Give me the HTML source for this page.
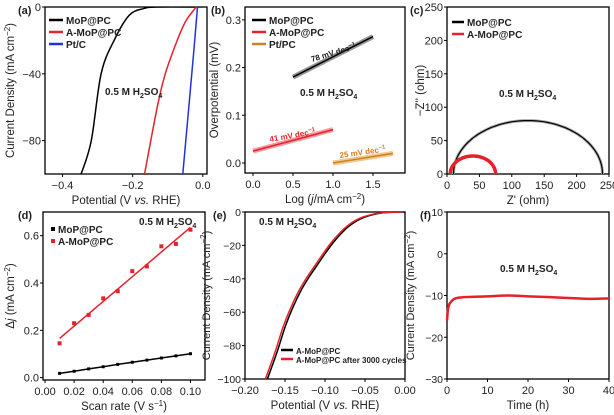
<!DOCTYPE html>
<html><head><meta charset="utf-8"><style>
body{margin:0;background:#fff}
svg{display:block;font-family:"Liberation Sans",sans-serif}
text{fill:#222}
</style></head><body>
<svg id="fig" width="614" height="415" viewBox="0 0 614 415"></svg>
<script>
// ---- Data (a)
const aPot=[-0.35,-0.347,-0.318,-0.29,-0.253,-0.21,-0.17,-0.13,0];
const aMoP=[-100,-100,-80,-40,-20,-5,-1,0,0];
const aAPot=[-0.166,-0.13,-0.107,-0.073,-0.05,-0.03,-0.017,0];
const aAMoP=[-100,-60,-40,-20,-9,-3,0,0];
const aPtPot=[-0.057,-0.04,-0.025,-0.015,0];
const aPt=[-100,-60,-25,0,0];
// ---- Data (b)
const bMoPx=[0.5,1.5],bMoPy=[0.18,0.265];
const bAx=[0,1],bAy=[0.025,0.07];
const bPtx=[1.0,1.75],bPty=[0.0,0.02];
// ---- Data (c)
const cMoP=[10,240,80];   // start, end, peak
const cA=[5,75,27];
// ---- Data (d)
const dScan=[0.01,0.02,0.03,0.04,0.05,0.06,0.07,0.08,0.09,0.10];
const dA=[0.145,0.23,0.265,0.335,0.365,0.45,0.47,0.555,0.565,0.625];
const dMoP=[0.018,0.027,0.037,0.046,0.056,0.065,0.074,0.083,0.092,0.101];
// ---- Data (e)
const ePot=[-0.172,-0.16,-0.15,-0.14,-0.13,-0.12,-0.11,-0.1,-0.09,-0.08,-0.07,-0.06,-0.05,-0.04,-0.03,-0.02,-0.01,0];
const eJ=[-100,-84,-69,-57,-47,-39,-32,-25,-18.5,-13,-8.5,-5.2,-3,-1.6,-0.7,-0.25,-0.05,0];
const eShift=0.0025;
// ---- Data (f)
const fT=[0,0.3,1,3,10,15,20,28,35,40];
const fJ=[-16,-13,-11.5,-10.5,-10.2,-10,-10.2,-10.5,-10.8,-10.7];

const svg=document.getElementById('fig');
const NS='http://www.w3.org/2000/svg';
function mk(tag,attrs,name,txt){const e=document.createElementNS(NS,tag);for(const k in attrs)e.setAttribute(k,attrs[k]);


if(txt!==undefined)e.innerHTML=txt;svg.appendChild(e);return e;}
function panel(p){
 const sx=v=>p.x0+(v-p.dx[0])/(p.dx[1]-p.dx[0])*(p.x1-p.x0);
 const sy=v=>p.y1-(v-p.dy[0])/(p.dy[1]-p.dy[0])*(p.y1-p.y0);
 const tf=p.tf||11;
 mk('rect',{x:p.x0,y:p.y0,width:p.x1-p.x0,height:p.y1-p.y0,fill:'none',stroke:'#000','stroke-width':1.3},p.id+'-frame');
 p.xt.forEach((v,i)=>{const x=sx(v);mk('line',{x1:x,x2:x,y1:p.y1,y2:p.y1+3,stroke:'#000'},p.id+'-x-tick');
  mk('text',{x:x,y:p.y1+15,'font-size':11,'text-anchor':'middle'},p.id+'-x-tick-label',p.xl[i]);});
 p.yt.forEach((v,i)=>{const y=sy(v);mk('line',{x1:p.x0-3,x2:p.x0,y1:y,y2:y,stroke:'#000'},p.id+'-y-tick');
  mk('text',{x:p.x0-4,y:y+4,'font-size':tf,'text-anchor':'end'},p.id+'-y-tick-label',p.yl[i]);});
 mk('text',{x:(p.x0+p.x1)/2,y:p.y1+30,'font-size':11.5,'text-anchor':'middle'},p.id+'-x-axis-title',p.xtitle);
 const yc=(p.y0+p.y1)/2;
 mk('text',{x:p.ytx,y:yc,'font-size':p.yf||11.5,'text-anchor':'middle',transform:`rotate(-90 ${p.ytx} ${yc})`},p.id+'-y-axis-title',p.ytitle);
 mk('text',{x:p.lx,y:p.y0+7,'font-size':11,'font-weight':'bold'},p.id+'-panel-label','('+p.id+')');
 return [sx,sy];
}
function path(sx,sy,xs,ys,st,name){let d='';xs.forEach((x,i)=>{d+=(i?'L':'M')+sx(x).toFixed(1)+' '+sy(ys[i]).toFixed(1);});
 return mk('path',Object.assign({d:d,fill:'none'},st),name);}
function smooth(sx,sy,xs,ys,st,name){
 const P=xs.map((x,i)=>[sx(x),sy(ys[i])]);let d='M'+P[0][0]+' '+P[0][1];
 for(let i=0;i<P.length-1;i++){const p0=P[Math.max(0,i-1)],p1=P[i],p2=P[i+1],p3=P[Math.min(P.length-1,i+2)];
  d+=`C${p1[0]+(p2[0]-p0[0])/6} ${p1[1]+(p2[1]-p0[1])/6} ${p2[0]-(p3[0]-p1[0])/6} ${p2[1]-(p3[1]-p1[1])/6} ${p2[0]} ${p2[1]}`;}
 return mk('path',Object.assign({d:d,fill:'none'},st),name);}
function clip(id,x0,y0,x1,y1){const c=document.createElementNS(NS,'clipPath');c.id=id;const r=document.createElementNS(NS,'rect');
 r.setAttribute('x',x0);r.setAttribute('y',y0);r.setAttribute('width',x1-x0);r.setAttribute('height',y1-y0);c.appendChild(r);svg.appendChild(c);}
function legend(x,y,col,label,name,bold=true,w=14,fs=10){mk('line',{x1:x,x2:x+w,y1:y,y2:y,stroke:col,'stroke-width':2.5},name+'-swatch');
 mk('text',{x:x+w+3,y:y+4,'font-size':fs,'font-weight':bold?'bold':'normal'},name,label);}
const H2SO4='0.5 M H<tspan font-size="7" dy="3">2</tspan><tspan dy="-3">SO</tspan><tspan font-size="7" dy="3">4</tspan>';
const CD='Current Density (mA cm<tspan font-size="8" dy="-4">−2</tspan><tspan dy="4">)</tspan>';

// (a)
let [sx,sy]=panel({id:'a',x0:45,x1:207,y0:7,y1:174,dx:[-0.45,0.012],dy:[-100,0],xt:[-0.4,-0.2,0],xl:['−0.4','−0.2','0.0'],
 yt:[0,-40,-80],yl:['0','−40','−80'],xtitle:'Potential (V <tspan font-style="italic">vs.</tspan> RHE)',ytitle:CD,ytx:14,lx:18});
clip('ca',45,7,207,174);
smooth(sx,sy,aPot,aMoP,{stroke:'#000','stroke-width':1.5,'clip-path':'url(#ca)'},'a-mop-pc-curve');
smooth(sx,sy,aAPot,aAMoP,{stroke:'#e8202a','stroke-width':1.5,'clip-path':'url(#ca)'},'a-a-mop-pc-curve');
path(sx,sy,aPtPot,aPt,{stroke:'#2233dd','stroke-width':1.5,'clip-path':'url(#ca)'},'a-pt-c-curve');
legend(49,20,'#000','MoP@PC','a-legend-mop');legend(49,32,'#e8202a','A-MoP@PC','a-legend-a-mop');legend(49,44,'#2233dd','Pt/C','a-legend-ptc');
mk('text',{x:105,y:95,'font-size':10,'font-weight':'bold'},'a-electrolyte-label',H2SO4);

// (b)
[sx,sy]=panel({id:'b',x0:245,x1:405,y0:7,y1:173,dx:[-0.1,1.9],dy:[-0.021,0.327],xt:[0,0.5,1,1.5],xl:['0.0','0.5','1.0','1.5'],
 yt:[0,0.1,0.2,0.3],yl:['0.0','0.1','0.2','0.3'],xtitle:'Log (<tspan font-style="italic">j</tspan>/mA cm<tspan font-size="8" dy="-4">−2</tspan><tspan dy="4">)</tspan>',ytitle:'Overpotential (mV)',ytx:218,lx:211});
path(sx,sy,bMoPx,bMoPy,{stroke:'#999','stroke-width':5},'b-mop-markers');
path(sx,sy,bMoPx,bMoPy,{stroke:'#000','stroke-width':1.5},'b-mop-fit');
path(sx,sy,bAx,bAy,{stroke:'#f3a0a5','stroke-width':5},'b-a-mop-markers');
path(sx,sy,bAx,bAy,{stroke:'#e8202a','stroke-width':1.5},'b-a-mop-fit');
path(sx,sy,bPtx,bPty,{stroke:'#f0c890','stroke-width':5},'b-pt-markers');
path(sx,sy,bPtx,bPty,{stroke:'#d08020','stroke-width':1.5},'b-pt-fit');
legend(252,20,'#000','MoP@PC','b-legend-mop');legend(252,32,'#e8202a','A-MoP@PC','b-legend-a-mop');legend(252,44,'#d08020','Pt/PC','b-legend-pt');
mk('text',{x:312,y:62,'font-size':8,'font-weight':'bold',transform:'rotate(-17 312 62)'},'b-slope-mop','78 mV dec<tspan font-size="6" dy="-3">−1</tspan>');
mk('text',{x:270,y:142,'font-size':8,'font-weight':'bold',transform:'rotate(-10 270 142)',style:'fill:#e8202a'},'b-slope-a-mop','41 mV dec<tspan font-size="6" dy="-3">−1</tspan>');
mk('text',{x:340,y:158,'font-size':8,'font-weight':'bold',transform:'rotate(-8 340 158)',style:'fill:#d08020'},'b-slope-pt','25 mV dec<tspan font-size="6" dy="-3">−1</tspan>');
mk('text',{x:300,y:96,'font-size':10,'font-weight':'bold'},'b-electrolyte-label',H2SO4);

// (c)
[sx,sy]=panel({id:'c',x0:447,x1:609,y0:7,y1:174,dx:[0,250],dy:[0,250],xt:[0,50,100,150,200,250],xl:['0','50','100','150','200','250'],
 yt:[0,50,100,150,200,250],yl:['0','50','100','150','200','250'],xtitle:"Z' (ohm)",ytitle:"−Z'' (ohm)",ytx:424,lx:410});
function arc(a,col,w,name){const cx=(a[0]+a[1])/2,r=(a[1]-a[0])/2;let d='';for(let i=0;i<=60;i++){const t=Math.PI*i/60;
 d+=(i?'L':'M')+sx(cx-r*Math.cos(t)).toFixed(1)+' '+sy(a[2]*Math.sin(t)).toFixed(1);}return mk('path',{d:d,fill:'none',stroke:col,'stroke-width':w},name);}
arc(cMoP,'#aaa',3,'c-mop-markers');arc(cMoP,'#000',1.2,'c-mop-fit');
arc(cA,'#e8202a',3.5,'c-a-mop-curve');
legend(452,22,'#000','MoP@PC','c-legend-mop',true,12);legend(452,34,'#e8202a','A-MoP@PC','c-legend-a-mop',true,12);
mk('text',{x:499,y:97,'font-size':10,'font-weight':'bold'},'c-electrolyte-label',H2SO4);

// (d)
[sx,sy]=panel({id:'d',x0:43,x1:205,y0:212,y1:380,dx:[-0.0014,0.110],dy:[-0.01,0.70],xt:[0,0.02,0.04,0.06,0.08,0.1],xl:['0.00','0.02','0.04','0.06','0.08','0.10'],
 yt:[0,0.2,0.4,0.6],yl:['0.0','0.2','0.4','0.6'],xtitle:'Scan rate (V s<tspan font-size="8" dy="-4">−1</tspan><tspan dy="4">)</tspan>',ytitle:'Δ<tspan font-style="italic">j</tspan> (mA cm<tspan font-size="8" dy="-4">−2</tspan><tspan dy="4">)</tspan>',ytx:14,lx:18});
(function(){const n=dScan.length;let mx=0,my=0;dScan.forEach((x,i)=>{mx+=x;my+=dA[i];});mx/=n;my/=n;let sxy=0,sxx=0;
 dScan.forEach((x,i)=>{sxy+=(x-mx)*(dA[i]-my);sxx+=(x-mx)*(x-mx);});const k=sxy/sxx,b=my-k*mx;
 path(sx,sy,[dScan[0],dScan[n-1]],[k*dScan[0]+b,k*dScan[n-1]+b],{stroke:'#e8202a','stroke-width':1.5},'d-a-mop-fit');})();
path(sx,sy,dScan,dMoP,{stroke:'#000','stroke-width':1.5},'d-mop-fit');
dScan.forEach((x,i)=>{mk('rect',{x:sx(x)-2,y:sy(dA[i])-2,width:4,height:4,fill:'#e8202a'},'d-a-mop-point');
 mk('rect',{x:sx(x)-1.5,y:sy(dMoP[i])-1.5,width:3,height:3,fill:'#000'},'d-mop-point');});
mk('rect',{x:51,y:227,width:4,height:4,fill:'#000'},'d-legend-mop-swatch');mk('text',{x:58,y:233,'font-size':10,'font-weight':'bold'},'d-legend-mop','MoP@PC');
mk('rect',{x:51,y:239,width:4,height:4,fill:'#e8202a'},'d-legend-a-mop-swatch');mk('text',{x:58,y:245,'font-size':10,'font-weight':'bold'},'d-legend-a-mop','A-MoP@PC');
mk('text',{x:139,y:225,'font-size':10,'font-weight':'bold'},'d-electrolyte-label',H2SO4);

// (e)
[sx,sy]=panel({id:'e',x0:245,x1:405,y0:212,y1:379,dx:[-0.2,0],dy:[-100,0],xt:[-0.2,-0.15,-0.1,-0.05,0],xl:['−0.20','−0.15','−0.10','−0.05','0.00'],
 yt:[0,-20,-40,-60,-80,-100],yl:['0','−20','−40','−60','−80','−100'],xtitle:'Potential (V <tspan font-style="italic">vs.</tspan> RHE)',ytitle:CD,ytx:210,lx:213,tf:10.5,yf:11});
clip('ce',245,212,405,379);
smooth(sx,sy,ePot,eJ,{stroke:'#000','stroke-width':1.5,'clip-path':'url(#ce)'},'e-a-mop-curve');
smooth(sx,sy,ePot.map(v=>v-eShift),eJ,{stroke:'#e8202a','stroke-width':1.5,'clip-path':'url(#ce)'},'e-after-cycles-curve');
legend(281,350,'#000','A-MoP@PC','e-legend-a-mop',true,12,8);legend(281,359,'#e8202a','A-MoP@PC after 3000 cycles','e-legend-after',true,12,8);
mk('text',{x:259,y:225,'font-size':10,'font-weight':'bold'},'e-electrolyte-label',H2SO4);

// (f)
[sx,sy]=panel({id:'f',x0:447,x1:609,y0:212,y1:379,dx:[0,40],dy:[-30,10],xt:[0,10,20,30,40],xl:['0','10','20','30','40'],
 yt:[10,0,-10,-20,-30],yl:['10','0','−10','−20','−30'],xtitle:'Time (h)',ytitle:CD,ytx:414,lx:420,tf:10.5,yf:11});
smooth(sx,sy,fT,fJ,{stroke:'#e8202a','stroke-width':2.5},'f-stability-curve');
mk('text',{x:500,y:272,'font-size':10,'font-weight':'bold'},'f-electrolyte-label',H2SO4);
</script>
</body></html>
